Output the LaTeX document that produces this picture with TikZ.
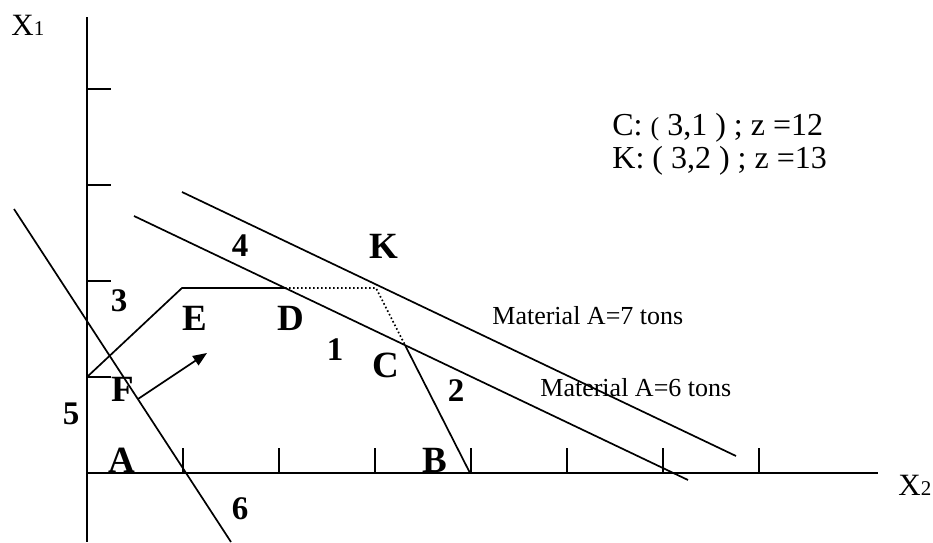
\documentclass[tikz,border=0pt]{standalone}
\usepackage{fontspec}
\setmainfont{Liberation Serif}
\usepackage{tikz}
\usetikzlibrary{arrows.meta,positioning,calc}
\tikzset{
    axisline/.style={line width=1pt},
    tickline/.style={line width=0.7pt},
    boundline/.style={line width=0.85pt},
    hiddenline/.style={line width=0.85pt, dash pattern=on 0.8pt off 1.2pt},
    cornerlabel/.style={inner sep=0pt, font=\fontsize{18.5}{21}\selectfont\bfseries},
    linelabel/.style={inner sep=0pt, font=\fontsize{16.5}{19}\selectfont\bfseries},
    axislabel/.style={inner sep=0pt, anchor=base west, font=\fontsize{15.5}{18}\selectfont},
    notetext/.style={inner sep=0pt, anchor=base west, font=\fontsize{13}{16}\selectfont},
    resulttext/.style={inner sep=0pt, anchor=base west, font=\fontsize{16}{19}\selectfont},
}

\begin{document}
\begin{tikzpicture}[x=0.5pt, y=-0.5pt]
    \useasboundingbox (0,0) rectangle (933,542);

    \coordinate (O) at (87,473);
    \coordinate (ytop) at (87,17);
    \coordinate (ybot) at (87,542);
    \coordinate (xend) at (878,473);
    \draw[axisline] (ytop) -- (ybot);
    \draw[axisline] (O) -- (xend);
    \foreach \i in {1,...,7}
        \draw[tickline] ($(O)+(96*\i,0)$) -- ++(0,-25);
    \foreach \j in {1,...,4}
        \draw[tickline] ($(O)+(0,-96*\j)$) -- ++(24,0);

    \coordinate (s6) at (14,209);
    \coordinate (e6) at (231,542);
    \coordinate (s1) at (134,216);
    \coordinate (e1) at (688,480);
    \coordinate (s7) at (182,192);
    \coordinate (e7) at (736,456);
    \coordinate (F) at (87,377);
    \coordinate (E) at (182,288);
    \coordinate (Kc) at (376,288);
    \coordinate (B) at (470,473);
    \coordinate (D) at (intersection of E--Kc and s1--e1);
    \coordinate (C) at (intersection of Kc--B and s1--e1);
    \coordinate (g0) at (138,399);
    \coordinate (g1) at (207,353);

    \draw[boundline] (s6) -- (e6);
    \draw[boundline] (s1) -- (e1);
    \draw[boundline] (s7) -- (e7);
    \draw[boundline] (F) -- (E) -- (D);
    \draw[hiddenline] (D) -- (Kc) -- (C);
    \draw[boundline] (C) -- (B);
    \draw[boundline, -{Triangle[length=7pt, width=5.5pt]}] (g0) -- (g1);

    \node[axislabel] (xonelbl) at (11,35) {X{\fontsize{10.5}{12}\selectfont 1}};
    \node[axislabel] (xtwolbl) at (898,495) {X{\fontsize{10.5}{12}\selectfont 2}};

    \node[cornerlabel] (lblA) at (122,460) {A};
    \node[cornerlabel] (lblB) at (435,460) {B};
    \node[cornerlabel] (lblC) at (386,365) {C};
    \node[cornerlabel] (lblD) at (291,318) {D};
    \node[cornerlabel] (lblE) at (195,318) {E};
    \node[cornerlabel] (lblF) at (123,389) {F};
    \node[cornerlabel] (lblK) at (384,246) {K};

    \node[linelabel] (lbl1) at (335,350) {1};
    \node[linelabel] (lbl2) at (456,391) {2};
    \node[linelabel] (lbl3) at (119,301) {3};
    \node[linelabel] (lbl4) at (240,246) {4};
    \node[linelabel] (lbl5) at (71,414) {5};
    \node[linelabel] (lbl6) at (240,509) {6};

    \node[notetext] (mat7) at (492,324) {Material A=7 tons};
    \node[notetext] (mat6) at (540,396) {Material A=6 tons};
    \node[resulttext] (resC) at (612,135) {C: {\fontsize{13}{15}\selectfont(} 3,1 ) ; z =12};
    \node[resulttext] (resK) at (612,168) {K: ( 3,2 ) ; z =13};
\end{tikzpicture}
\end{document}
